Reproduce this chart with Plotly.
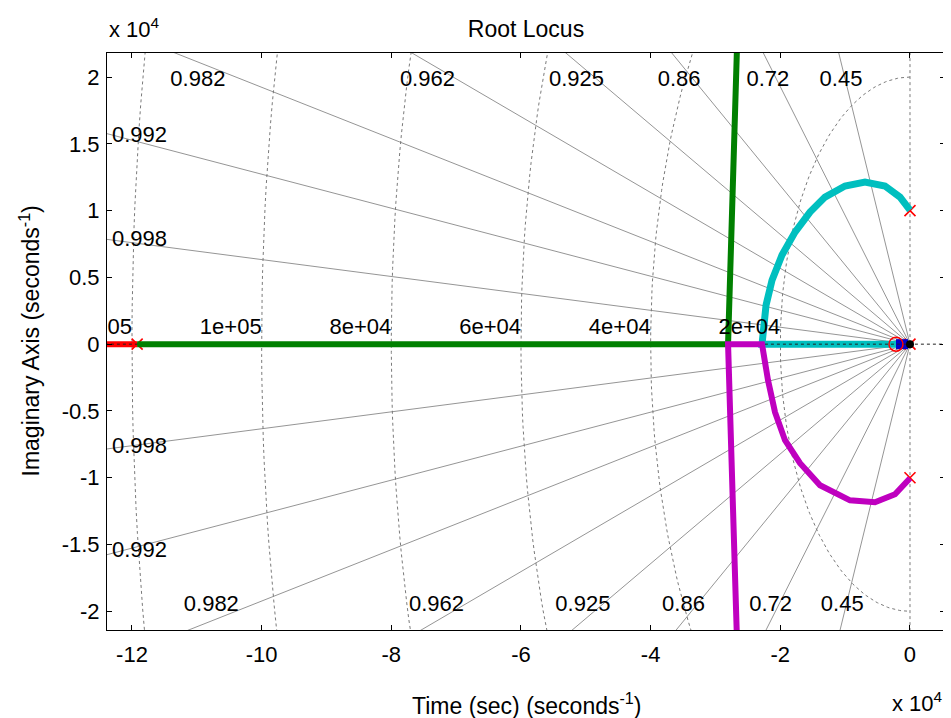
import numpy as np
import plotly.graph_objects as go

# ---------------- data (s-plane, seconds^-1) ----------------
# locus branches (MATLAB colour order b, g, r, c, m)
blue_x = [-2160, -300]
blue_y = [0, 0]
green_x = [-119200, -28060, -26200]
green_y = [0, 0, 30000]
red_x = [-119200, -135000]
red_y = [0, 0]
cyan_x = [0, -1540, -3860, -6940, -10020, -13110, -15420, -17730, -19740,
          -21280, -22200, -22670, -22820, -2160]
cyan_y = [10040, 11010, 11840, 12130, 11840, 11010, 9890, 8390, 6670,
          4790, 2920, 1050, 0, 0]
magenta_x = [0, -2310, -5400, -9250, -13880, -16960, -19280, -20820, -21900,
             -22500, -22820, -28060, -26200]
magenta_y = [-10040, -11240, -11840, -11690, -10560, -8910, -7190, -5090,
             -2700, -820, 0, 0, -30000]
# poles and zeros
pole_x = [0, 0, 0, -119200]
pole_y = [10000, -10000, 0, 0]
zero_x = [-2160]
zero_y = [0]
# grid values
zeta_vals = [0.45, 0.72, 0.86, 0.925, 0.962, 0.982, 0.992, 0.998]
zeta_labels = ["0.45", "0.72", "0.86", "0.925", "0.962", "0.982", "0.992", "0.998"]
wn_vals = [20000, 40000, 60000, 80000, 100000, 120000]
wn_labels = ["2e+04", "4e+04", "6e+04", "8e+04", "1e+05", "1.2e+05"]
# ticks
x_tickvals = [-120000, -100000, -80000, -60000, -40000, -20000, 0]
x_ticktext = ["-12", "-10", "-8", "-6", "-4", "-2", "0"]
y_tickvals = [-20000, -15000, -10000, -5000, 0, 5000, 10000, 15000, 20000]
y_ticktext = ["-2", "-1.5", "-1", "-0.5", "0", "0.5", "1", "1.5", "2"]

XMIN, XMAX = -123850, 5400
YMIN, YMAX = -21400, 21800

FONT = "Liberation Sans, Arial, Helvetica, sans-serif"
FS = 22
GRID = "#7a7a7a"

# the page body adds an 8 px margin around the figure
W, H = 943, 710
ML, MR, MT, MB = 99, 6, 45, 88
PLOT_W = W - ML - MR
PLOT_H = H - MT - MB

fig = go.Figure()

# ---------------- sgrid: damping rays ----------------
R = 300000
for z in zeta_vals:
    th = np.arccos(z)
    for sgn in (1, -1):
        fig.add_trace(go.Scatter(x=[0, -R * np.cos(th)], y=[0, sgn * R * np.sin(th)],
                                 mode="lines", line=dict(color=GRID, width=0.8),
                                 hoverinfo="skip", showlegend=False))
# zeta = 0 (imaginary axis)
fig.add_trace(go.Scatter(x=[0, 0], y=[-R, R], mode="lines",
                         line=dict(color=GRID, width=1, dash="dot"),
                         hoverinfo="skip", showlegend=False))
# natural frequency circles
phi = np.linspace(np.pi / 2, 3 * np.pi / 2, 200)
for w in wn_vals:
    fig.add_trace(go.Scatter(x=w * np.cos(phi), y=w * np.sin(phi), mode="lines",
                             line=dict(color=GRID, width=1, dash="dot"),
                             hoverinfo="skip", showlegend=False))

# pole markers (drawn beneath the branches, as in the reference)
fig.add_trace(go.Scatter(x=pole_x, y=pole_y, mode="markers",
                         marker=dict(symbol="x-thin-open", size=11, color="#ff0000",
                                     line=dict(color="#ff0000", width=1.6)),
                         hoverinfo="skip", showlegend=False))

# ---------------- locus branches ----------------
fig.add_trace(go.Scatter(x=blue_x, y=blue_y, mode="lines",
                         line=dict(color="#0000cc", width=10), showlegend=False))
fig.add_trace(go.Scatter(x=red_x, y=red_y, mode="lines",
                         line=dict(color="#ff0000", width=6), showlegend=False))
fig.add_trace(go.Scatter(x=cyan_x, y=cyan_y, mode="lines",
                         line=dict(color="#00bfbf", width=7), showlegend=False))
# real-axis grid line (zeta = 1)
fig.add_trace(go.Scatter(x=[-R, R], y=[0, 0], mode="lines",
                         line=dict(color="#222222", width=1, dash="dot"),
                         hoverinfo="skip", showlegend=False))
fig.add_trace(go.Scatter(x=green_x, y=green_y, mode="lines",
                         line=dict(color="#008000", width=6), showlegend=False))
fig.add_trace(go.Scatter(x=magenta_x, y=magenta_y, mode="lines",
                         line=dict(color="#bf00bf", width=6), showlegend=False))

# zeros and origin marker
fig.add_trace(go.Scatter(x=zero_x, y=zero_y, mode="markers",
                         marker=dict(symbol="circle-open", size=14, color="#ff0000",
                                     line=dict(color="#ff0000", width=1.5)),
                         showlegend=False))
fig.add_trace(go.Scatter(x=[0], y=[0], mode="markers",
                         marker=dict(symbol="circle", size=8, color="black"),
                         showlegend=False))

# ---------------- grid labels ----------------
px_per_y = PLOT_H / (YMAX - YMIN)
px_per_x = PLOT_W / (XMAX - XMIN)
lab_x, lab_y, lab_t, lab_pos = [], [], [], []
for z, t in zip(zeta_vals, zeta_labels):
    th = np.arccos(z)
    tan = np.tan(th)
    y_left = -XMIN * tan
    if y_left > YMAX:  # ray leaves through top / bottom border
        ytop = YMAX - 9 / px_per_y
        ybot = YMIN + 9 / px_per_y
        lab_x += [-ytop / tan, ybot / tan]
        lab_y += [YMAX - 27 / px_per_y, YMIN + 25 / px_per_y]
        lab_t += [t, t]
        lab_pos += ["middle center", "middle center"]
    else:  # ray leaves through left border
        xl = XMIN + 11 / px_per_x
        yl = -xl * tan
        lab_x += [XMIN + 5 / px_per_x, XMIN + 5 / px_per_x]
        lab_y += [yl, -yl]
        lab_t += [t, t]
        lab_pos += ["middle right", "middle right"]
for w, t in zip(wn_vals, wn_labels):
    lab_x.append(-w)
    lab_y.append(16 / px_per_y)
    lab_t.append(t)
    lab_pos.append("middle left")
fig.add_trace(go.Scatter(x=lab_x, y=lab_y, text=lab_t, mode="text",
                         textposition=lab_pos, cliponaxis=True,
                         textfont=dict(family=FONT, size=FS, color="black"),
                         hoverinfo="skip", showlegend=False))

# ---------------- layout ----------------
axis_common = dict(showgrid=False, zeroline=False, showline=True, linecolor="black",
                   linewidth=1, mirror="ticks", ticks="inside", ticklen=5,
                   tickcolor="black", automargin=False,
                   tickfont=dict(family=FONT, size=FS, color="black"))
fig.update_layout(
    width=W, height=H,
    margin=dict(l=ML, r=MR, t=MT, b=MB, autoexpand=False),
    paper_bgcolor="white", plot_bgcolor="white",
    title=dict(text="Root Locus", x=0.5, xref="paper", xanchor="center",
               y=1 - 21 / H, yref="container", yanchor="middle",
               font=dict(family=FONT, size=23, color="black")),
    xaxis=dict(range=[XMIN, XMAX], tickvals=x_tickvals, ticktext=x_ticktext,
               ticklabelstandoff=5, **axis_common),
    yaxis=dict(range=[YMIN, YMAX], tickvals=y_tickvals, ticktext=y_ticktext,
               ticklabelstandoff=2, **axis_common),
    font=dict(family=FONT, size=FS, color="black"),
    annotations=[
        dict(text="Time (sec) (seconds<sup>-1</sup>)", xref="paper", yref="paper",
             x=0.5, y=-74 / PLOT_H, xanchor="center", yanchor="middle",
             showarrow=False, font=dict(family=FONT, size=23)),
        dict(text="Imaginary Axis (seconds<sup>-1</sup>)", xref="paper", yref="paper",
             x=-78 / PLOT_W, y=0.5, xanchor="center", yanchor="middle",
             textangle=-90, showarrow=False, font=dict(family=FONT, size=23)),
        dict(text="x 10<sup>4</sup>", xref="paper", yref="paper",
             x=0, y=1 + 25 / PLOT_H, xanchor="left", yanchor="middle",
             showarrow=False, font=dict(family=FONT, size=FS)),
        dict(text="x 10<sup>4</sup>", xref="paper", yref="paper",
             x=1, y=-72 / PLOT_H, xanchor="right", yanchor="middle",
             showarrow=False, font=dict(family=FONT, size=FS)),
    ],
)

fig.write_html("out.html")
